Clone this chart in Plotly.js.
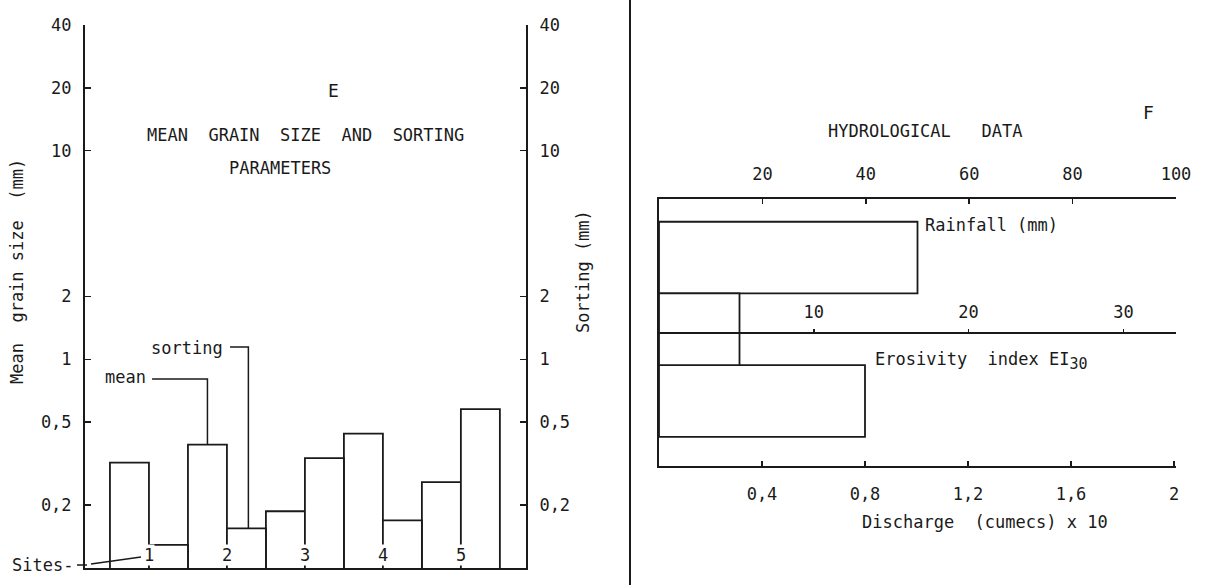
<!DOCTYPE html>
<html>
<head>
<meta charset="utf-8">
<script src="https://cdn.plot.ly/plotly-3.0.1.min.js"></script>
<style>html,body{margin:0;padding:0;background:#fff;}#chart{width:1215px;height:585px;}</style>
</head>
<body>
<div id="chart"></div>
<script>
// ---- Data ----
var sites = ['1', '2', '3', '4', '5'];
var meanSize = [0.32, 0.39, 0.187, 0.44, 0.258];   // mean grain size (mm)
var sorting  = [0.129, 0.155, 0.336, 0.169, 0.577]; // sorting (mm)
var logTickVals = [0.2, 0.5, 1, 2, 10, 20, 40];
var logTickText = ['0,2', '0,5', '1', '2', '10', '20', '40'];

var hydroLabels = ['Rainfall (mm)', 'Erosivity\u00a0 index EI<sub><span style="font-size:15px">30</span></sub>', 'Discharge\u00a0 (cumecs) x 10'];
var rainfall = [50];      // mm
var erosivity = [5.2];    // EI30
var discharge = [0.8];    // cumecs x 10
var rainTicks = [20, 40, 60, 80, 100];
var eroTicks = [10, 20, 30];
var disTicks = [0.4, 0.8, 1.2, 1.6, 2];
var disTickText = ['0,4', '0,8', '1,2', '1,6', '2'];

// ---- helpers for layout positions (pixels -> paper) ----
var W = 1215, H = 585;
function px(x) { return x / W; }
function py(y) { return 1 - y / H; }

var FONT = 'DejaVu Sans Mono';
var INK = '#1a1a1a';
var barStyle = {color: '#ffffff', line: {color: INK, width: 1.8}};

var traces = [
  {type: 'bar', x: sites.map(function (s, i) { return 2 * i; }), y: meanSize, width: 1,
   marker: barStyle, xaxis: 'x', yaxis: 'y', hoverinfo: 'skip'},
  {type: 'bar', x: sites.map(function (s, i) { return 2 * i + 1; }), y: sorting, width: 1,
   marker: barStyle, xaxis: 'x', yaxis: 'y2', hoverinfo: 'skip'},
  // leader lines for "mean" and "sorting" labels (to site 2 bars)
  {type: 'scatter', mode: 'lines', x: [0.58, 2, 2], y: [0.805, 0.805, meanSize[1]],
   line: {color: INK, width: 1.5}, xaxis: 'x', yaxis: 'y', hoverinfo: 'skip'},
  {type: 'scatter', mode: 'lines', x: [2.58, 3.05, 3.05], y: [1.145, 1.145, sorting[1]],
   line: {color: INK, width: 1.5}, xaxis: 'x', yaxis: 'y2', hoverinfo: 'skip'},
  // hydrological data
  {type: 'bar', orientation: 'h', y: [2], x: rainfall, width: 1, marker: barStyle,
   xaxis: 'x2', yaxis: 'y3', hoverinfo: 'skip'},
  {type: 'bar', orientation: 'h', y: [1], x: erosivity, width: 1, marker: barStyle,
   xaxis: 'x4', yaxis: 'y3', hoverinfo: 'skip'},
  {type: 'bar', orientation: 'h', y: [0], x: discharge, width: 1, marker: barStyle,
   xaxis: 'x3', yaxis: 'y3', hoverinfo: 'skip'}
];

var logAxisBase = {
  type: 'log', domain: [py(568), py(25)], range: [-1, Math.log10(40)],
  tickmode: 'array', tickvals: logTickVals, ticktext: logTickText,
  ticks: 'inside', ticklen: 6, tickwidth: 1.5, tickcolor: INK,
  showline: true, linecolor: INK, linewidth: 2, showgrid: false, zeroline: false,
  ticklabelstandoff: 8, tickfont: {family: FONT, size: 17, color: INK}, fixedrange: true
};
var yaxis1 = Object.assign({}, logAxisBase, {anchor: 'x', side: 'left'});
var yaxis2 = Object.assign({}, logAxisBase, {anchor: 'x', side: 'right', overlaying: 'y'});

var hx = [px(659), px(1176)];
var hydroAxis = {
  domain: hx, showline: true, linecolor: INK, linewidth: 2, showgrid: false, zeroline: false,
  ticks: 'inside', ticklen: 5, tickwidth: 1.5, tickcolor: INK, tickmode: 'array',
  tickfont: {family: FONT, size: 17, color: INK}, fixedrange: true
};

var ann = [];
function txt(t, x, y, opts) {
  ann.push(Object.assign({text: t, x: px(x), y: py(y), xref: 'paper', yref: 'paper',
    showarrow: false, xanchor: 'center', yanchor: 'middle',
    font: {family: FONT, size: 17, color: INK}}, opts || {}));
}
txt('E', 333, 90, {font: {family: FONT, size: 18, color: INK}});
txt('MEAN\u00a0 GRAIN\u00a0 SIZE\u00a0 AND\u00a0 SORTING', 306, 135);
txt('PARAMETERS', 280, 168);
txt('mean', 148, 377, {xanchor: 'right'});
txt('sorting', 225, 348, {xanchor: 'right'});
txt('Sites-', 75, 565, {xanchor: 'right'});
txt('Mean\u00a0 grain size\u00a0 (mm)', 17, 272, {textangle: -90});
txt('Sorting (mm)', 583, 272, {textangle: -90});
txt('F', 1148, 113, {font: {family: FONT, size: 18, color: INK}});
txt('HYDROLOGICAL\u00a0\u00a0 DATA', 925, 131);
txt(hydroLabels[0], 923, 225, {xanchor: 'left'});
txt(hydroLabels[1], 873, 361, {xanchor: 'left'});
txt(hydroLabels[2], 985, 522);
sites.forEach(function (s, i) {
  ann.push({text: s, x: 2 * i + 0.5, xref: 'x', y: py(555), yref: 'paper', showarrow: false,
    xanchor: 'center', yanchor: 'middle', bgcolor: '#ffffff', borderpad: 0,
    font: {family: FONT, size: 17, color: INK}});
});

var layout = {
  width: W, height: H, margin: {l: 0, r: 0, t: 0, b: 0},
  paper_bgcolor: '#ffffff', plot_bgcolor: 'rgba(0,0,0,0)',
  showlegend: false, barmode: 'overlay', dragmode: false,
  font: {family: FONT, size: 17, color: INK},
  xaxis: {domain: [px(85), px(526)], range: [-1.14, 10.17], anchor: 'y',
    showline: true, linecolor: INK, linewidth: 2, showticklabels: false, ticks: '',
    showgrid: false, zeroline: false, fixedrange: true},
  yaxis: yaxis1,
  yaxis2: yaxis2,
  xaxis2: Object.assign({}, hydroAxis, {anchor: 'y3', side: 'top', range: [0, 100],
    tickvals: rainTicks, ticklabelstandoff: 10}),
  xaxis3: Object.assign({}, hydroAxis, {anchor: 'y3', side: 'bottom', overlaying: 'x2',
    range: [0, 2 * (1176 - 659) / (1174 - 659)], tickvals: disTicks, ticktext: disTickText,
    ticklabelstandoff: 12}),
  xaxis4: Object.assign({}, hydroAxis, {anchor: 'free', position: py(333), side: 'top',
    overlaying: 'x2', range: [0, (1176 - 660) / 15.45], tickvals: eroTicks,
    ticks: 'outside', ticklen: 3, ticklabelstandoff: 4}),
  yaxis3: {domain: [py(466), py(199)], range: [-0.907, 2.817], anchor: 'x2',
    showline: true, linecolor: INK, linewidth: 2, showticklabels: false, ticks: '',
    showgrid: false, zeroline: false, fixedrange: true},
  shapes: [
    {type: 'line', xref: 'paper', yref: 'paper', x0: px(630), x1: px(630), y0: 0, y1: 1,
     line: {color: INK, width: 2}},
    {type: 'line', xref: 'paper', yref: 'paper', x0: px(77), x1: px(87), y0: py(565), y1: py(565),
     line: {color: INK, width: 1.5}},
    {type: 'line', xref: 'paper', yref: 'paper', x0: px(91), x1: px(141), y0: py(564), y1: py(557),
     line: {color: INK, width: 1.5}}
  ],
  annotations: ann
};

Plotly.newPlot('chart', traces, layout, {staticPlot: true, displayModeBar: false});
</script>
</body>
</html>
